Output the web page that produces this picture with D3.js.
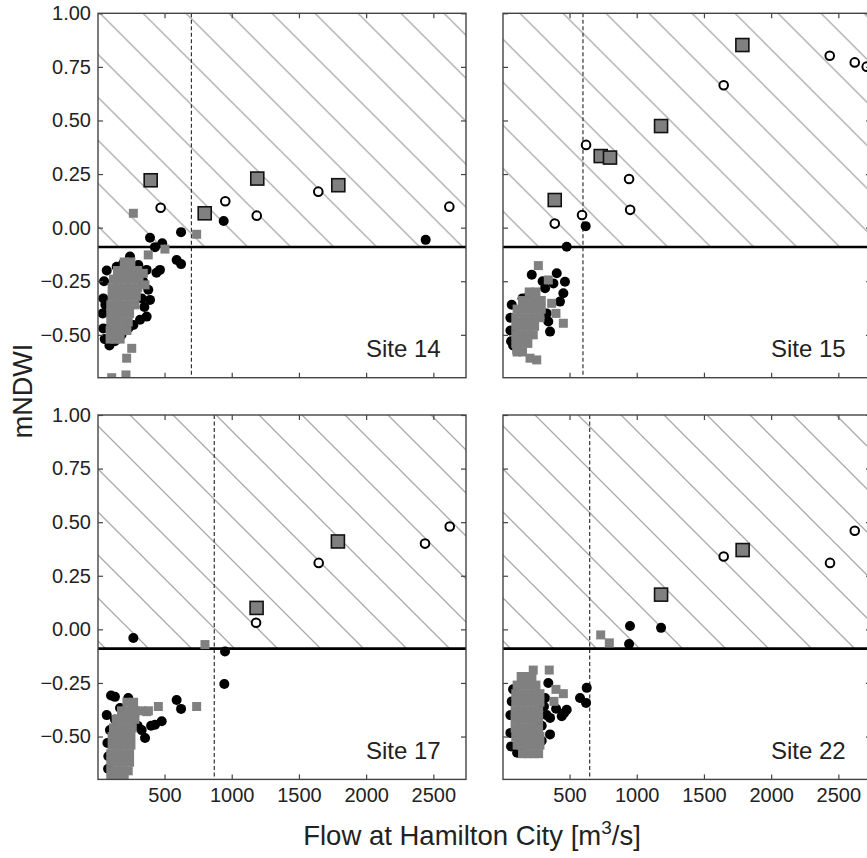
<!DOCTYPE html>
<html>
<head>
<meta charset="utf-8">
<script src="https://cdn.jsdelivr.net/npm/d3@7.9.0/dist/d3.min.js"></script>
<style>
  body { margin: 0; background: #fff; }
  svg text { font-family: "Liberation Sans", Arial, sans-serif; fill: #222; }
</style>
</head>
<body>
<svg id="chart" width="867" height="858"></svg>
<script>
// ---- data: [flow m3/s, mNDWI] ----
const sites = ['Site 14', 'Site 15', 'Site 17', 'Site 22'];
const flowThresholds = [700, 600, 870, 650];
const mndwiThreshold = -0.09;
const flowTicks = [500, 1000, 1500, 2000, 2500];
const mndwiTicks = [1.00, 0.75, 0.50, 0.25, 0.00, -0.25, -0.50];

const site14Black = [[392,-0.047],[483,-0.073],[429,-0.091],[623,-0.021],[940,0.031],[2443,-0.057],[590,-0.151],[623,-0.17],
  [50,-0.25],[45,-0.33],[40,-0.40],[45,-0.47],[55,-0.52],[70,-0.20],[94,-0.47],[144,-0.182],[193,-0.166],[243,-0.135],
  [305,-0.174],[367,-0.197],[379,-0.29],[392,-0.337],[466,-0.197],[440,-0.21],[367,-0.415],[318,-0.43],[268,-0.454],
  [340,-0.25],[350,-0.37],[330,-0.33],[230,-0.47],[180,-0.50],[130,-0.53],[90,-0.55],[60,-0.36]];
const site14Gray = [[200,-0.16],[250,-0.16],
  [150,-0.20],[200,-0.20],[250,-0.20],[300,-0.20],
  [120,-0.24],[160,-0.24],[210,-0.24],[260,-0.24],[310,-0.24],
  [110,-0.28],[150,-0.28],[200,-0.28],[250,-0.28],[300,-0.28],
  [110,-0.32],[150,-0.32],[200,-0.32],[250,-0.32],[290,-0.32],
  [100,-0.36],[140,-0.36],[190,-0.36],[240,-0.36],[280,-0.36],
  [100,-0.40],[140,-0.40],[190,-0.40],[240,-0.40],
  [100,-0.44],[130,-0.44],[180,-0.44],[230,-0.44],
  [95,-0.48],[130,-0.48],[180,-0.48],[220,-0.48],
  [95,-0.52],[130,-0.52],[170,-0.52],
  [342,-0.213],[355,-0.267],[256,-0.563],[218,-0.609],[213,-0.687],[107,-0.70],
  [268,0.067],[739,-0.031],[503,-0.10],[379,-0.127]];
const site14Square = [[397,0.221],[799,0.067],[1190,0.229],[1793,0.198]];
const site14Open = [[471,0.093],[952,0.123],[1186,0.056],[1644,0.168],[2619,0.098]];

const site15Black = [[479,-0.089],[620,0.007],[1181,0.48],
  [70,-0.36],[60,-0.42],[60,-0.48],[65,-0.53],[80,-0.55],[219,-0.22],[405,-0.213],[466,-0.252],[454,-0.306],
  [429,-0.345],[318,-0.283],[193,-0.322],[355,-0.485],[342,-0.438],[330,-0.40],[380,-0.26],[300,-0.25],[150,-0.33]];
const site15Gray = [[268,-0.177],[342,-0.244],[367,-0.353],[399,-0.40],[454,-0.446],[256,-0.617],[206,-0.609],[107,-0.57],
  [200,-0.30],[250,-0.30],
  [150,-0.34],[200,-0.34],[250,-0.34],[290,-0.34],
  [110,-0.38],[150,-0.38],[200,-0.38],[250,-0.38],[290,-0.38],
  [100,-0.42],[140,-0.42],[190,-0.42],[240,-0.42],[280,-0.42],
  [100,-0.46],[140,-0.46],[190,-0.46],[240,-0.46],
  [100,-0.50],[140,-0.50],[190,-0.50],[230,-0.50],
  [100,-0.54],[140,-0.54],[190,-0.54],
  [110,-0.58],[150,-0.58]];
const site15Square = [[390,0.129],[732,0.334],[801,0.327],[1181,0.474],[1786,0.852]];
const site15Open = [[390,0.019],[593,0.059],[623,0.386],[943,0.227],[951,0.083],[1647,0.664],[2436,0.802],[2622,0.771],[2711,0.751]];

const site17Black = [[268,-0.04],[950,-0.103],[945,-0.255],
  [102,-0.309],[131,-0.315],[230,-0.32],[590,-0.33],[623,-0.371],[479,-0.429],[429,-0.445],[355,-0.507],[169,-0.367],
  [131,-0.42],[94,-0.47],[82,-0.592],[330,-0.47],[75,-0.53],[80,-0.65],[300,-0.45],[400,-0.45],[70,-0.40]];
const site17Gray = [[801,-0.071],[739,-0.36],[454,-0.36],[367,-0.384],[268,-0.36],
  [220,-0.34],[270,-0.34],
  [180,-0.38],[230,-0.38],[280,-0.38],[330,-0.38],[380,-0.38],
  [140,-0.42],[180,-0.42],[230,-0.42],[280,-0.42],
  [120,-0.46],[160,-0.46],[210,-0.46],[260,-0.46],
  [110,-0.50],[150,-0.50],[200,-0.50],[250,-0.50],
  [110,-0.54],[150,-0.54],[200,-0.54],[250,-0.54],
  [100,-0.58],[140,-0.58],[190,-0.58],[240,-0.58],
  [100,-0.62],[140,-0.62],[190,-0.62],[240,-0.62],
  [100,-0.66],[140,-0.66],[190,-0.66],[230,-0.66],
  [100,-0.70],[150,-0.70],[200,-0.70]];
const site17Square = [[1185,0.10],[1790,0.41]];
const site17Open = [[1181,0.031],[1647,0.31],[2438,0.40],[2622,0.48]];

const site22Black = [[950,0.016],[1181,0.007],[943,-0.068],
  [628,-0.273],[578,-0.32],[623,-0.343],[479,-0.375],[442,-0.405],[400,-0.37],[355,-0.413],[355,-0.49],[293,-0.52],
  [342,-0.25],[318,-0.32],[70,-0.336],[60,-0.40],[60,-0.483],[65,-0.546],[110,-0.576],[156,-0.576],[293,-0.45],
  [460,-0.39],[330,-0.40],[310,-0.36],[80,-0.28]];
const site22Gray = [[732,-0.026],[796,-0.063],[230,-0.19],[349,-0.19],[399,-0.28],[454,-0.30],[384,-0.336],
  [140,-0.22],[180,-0.22],[220,-0.22],
  [110,-0.26],[150,-0.26],[200,-0.26],[250,-0.26],
  [100,-0.30],[140,-0.30],[190,-0.30],[240,-0.30],[280,-0.30],
  [100,-0.34],[140,-0.34],[190,-0.34],[240,-0.34],[280,-0.34],
  [95,-0.38],[130,-0.38],[180,-0.38],[230,-0.38],[270,-0.38],
  [95,-0.42],[130,-0.42],[180,-0.42],[230,-0.42],[270,-0.42],
  [95,-0.46],[130,-0.46],[180,-0.46],[230,-0.46],[270,-0.46],
  [100,-0.50],[140,-0.50],[190,-0.50],[240,-0.50],[280,-0.50],
  [110,-0.54],[140,-0.54],[190,-0.54],[240,-0.54],[280,-0.54],
  [150,-0.58],[190,-0.58],[230,-0.58],[270,-0.58]];
const site22Square = [[1181,0.162],[1788,0.37]];
const site22Open = [[1647,0.34],[2438,0.31],[2622,0.46]];

const blackSeries = [site14Black, site15Black, site17Black, site22Black];
const graySeries = [site14Gray, site15Gray, site17Gray, site22Gray];
const squareSeries = [site14Square, site15Square, site17Square, site22Square];
const openSeries = [site14Open, site15Open, site17Open, site22Open];

// ---- layout ----
const svg = d3.select('#chart');
const panelLeft = [98, 503];
const panelTop = [13.3, 415];
const panelW = 368, panelH = 364.4;

// hatch: 45 degree lines, one phase per panel (x - y offset of one line)
const hatchStep = 43;
const hatchPhase = [86.7, 506.7, -285, 120];
const defs = svg.append('defs');

sites.forEach((site, i) => {
    const col = i % 2, row = Math.floor(i / 2);
    const left = panelLeft[col], top = panelTop[row];

    const x = d3.scaleLinear().domain([5, 2743]).range([left, left + panelW]);
    const y = d3.scaleLinear().domain([-0.70, 1.00]).range([top + panelH, top]);

    defs.append('pattern')
        .attr('id', `hatch${i}`)
        .attr('patternUnits', 'userSpaceOnUse')
        .attr('width', hatchStep).attr('height', hatchStep)
        .attr('patternTransform', `translate(${hatchPhase[i]},0)`)
      .append('path')
        .attr('d', `M-2,-2L${hatchStep + 2},${hatchStep + 2}M-2,${hatchStep - 2}L2,${hatchStep + 2}M${hatchStep - 2},-2L${hatchStep + 2},2`)
        .attr('stroke', '#a9a9a9').attr('stroke-width', 1.3).attr('fill', 'none');

    defs.append('clipPath').attr('id', `clip${i}`)
      .append('rect').attr('x', left).attr('y', top).attr('width', panelW).attr('height', panelH);

    const plot = svg.append('g').attr('clip-path', `url(#clip${i})`);

    // hatched region above the mNDWI threshold
    plot.append('rect')
        .attr('x', left).attr('y', y(1.00))
        .attr('width', panelW).attr('height', y(mndwiThreshold) - y(1.00))
        .attr('fill', `url(#hatch${i})`);

    plot.append('line')
        .attr('x1', x(flowThresholds[i])).attr('x2', x(flowThresholds[i]))
        .attr('y1', top).attr('y2', top + panelH)
        .attr('stroke', '#333').attr('stroke-width', 1.2).attr('stroke-dasharray', '4,2.5');

    plot.append('line')
        .attr('x1', left).attr('x2', left + panelW)
        .attr('y1', y(mndwiThreshold)).attr('y2', y(mndwiThreshold))
        .attr('stroke', '#000').attr('stroke-width', 2.6);

    plot.selectAll('.blk').data(blackSeries[i]).join('circle')
        .attr('cx', d => x(d[0])).attr('cy', d => y(d[1])).attr('r', 5)
        .attr('fill', '#000');

    plot.selectAll('.gry').data(graySeries[i]).join('rect')
        .attr('x', d => x(d[0]) - 4.5).attr('y', d => y(d[1]) - 4.5)
        .attr('width', 9).attr('height', 9).attr('fill', '#808080');

    plot.selectAll('.sq').data(squareSeries[i]).join('rect')
        .attr('x', d => x(d[0]) - 6.5).attr('y', d => y(d[1]) - 6.5)
        .attr('width', 13).attr('height', 13)
        .attr('fill', '#808080').attr('stroke', '#111').attr('stroke-width', 1.6);

    plot.selectAll('.op').data(openSeries[i]).join('circle')
        .attr('cx', d => x(d[0])).attr('cy', d => y(d[1])).attr('r', 4.3)
        .attr('fill', '#fff').attr('stroke', '#000').attr('stroke-width', 2);

    // axes, ticks point inward on all four sides
    const fmt = d3.format('.2f');
    const axB = svg.append('g').attr('transform', `translate(0,${top + panelH})`)
        .call(d3.axisBottom(x).tickValues(flowTicks).tickSize(-5).tickPadding(8)
            .tickFormat(row === 1 ? d3.format('d') : ''));
    const axT = svg.append('g').attr('transform', `translate(0,${top})`)
        .call(d3.axisTop(x).tickValues(flowTicks).tickSize(-5).tickFormat(''));
    const axL = svg.append('g').attr('transform', `translate(${left},0)`)
        .call(d3.axisLeft(y).tickValues(mndwiTicks).tickSize(-5).tickPadding(7)
            .tickFormat(col === 0 ? fmt : ''));
    const axR = svg.append('g').attr('transform', `translate(${left + panelW},0)`)
        .call(d3.axisRight(y).tickValues(mndwiTicks).tickSize(-5).tickFormat(''));
    [axB, axT, axL, axR].forEach(a => {
        a.select('.domain').remove();
        a.selectAll('line').attr('stroke', '#444').attr('stroke-width', 1.2);
        a.selectAll('text').attr('font-size', 20).attr('fill', '#222')
            .attr('font-family', '"Liberation Sans", Arial, sans-serif');
    });

    svg.append('rect')
        .attr('x', left).attr('y', top).attr('width', panelW).attr('height', panelH)
        .attr('fill', 'none').attr('stroke', '#444').attr('stroke-width', 1.4);

    svg.append('text')
        .attr('x', left + 342.7).attr('y', top + 344)
        .attr('text-anchor', 'end').attr('font-size', 24)
        .text(site);
});

svg.append('text')
    .attr('transform', 'translate(32,391) rotate(-90)')
    .attr('text-anchor', 'middle').attr('font-size', 27)
    .text('mNDWI');

const xl = svg.append('text')
    .attr('x', 472).attr('y', 845)
    .attr('text-anchor', 'middle').attr('font-size', 27.5);
xl.append('tspan').text('Flow at Hamilton City [m');
xl.append('tspan').attr('font-size', 19).attr('dy', -11).text('3');
xl.append('tspan').attr('dy', 11).text('/s]');
</script>
</body>
</html>
